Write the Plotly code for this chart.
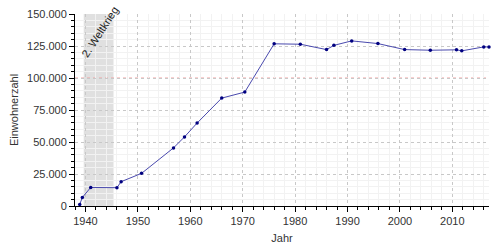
import plotly.graph_objects as go

years = [1938.9, 1939.4, 1941, 1946, 1946.8, 1950.7, 1956.8, 1958.9, 1961.3, 1966, 1970.4,
         1976, 1981, 1986, 1987.4, 1990.8, 1995.8, 2000.9, 2005.8, 2010.8, 2011.8, 2016, 2017]
population = [1200, 6700, 14500, 14300, 19000, 25500, 45400, 54000, 64800, 84300, 89000,
              126700, 126400, 122200, 125500, 129000, 126900, 122200, 121700, 122000, 121200, 124300, 124300]
war_start, war_end = 1939.67, 1945.35
war_label = "2. Weltkrieg"
reference_value = 100000

fig = go.Figure()
fig.add_trace(go.Scatter(
    x=years, y=population, mode="lines+markers",
    line=dict(color="#4a4aae", width=1),
    marker=dict(color="#000080", size=3.5),
    showlegend=False, cliponaxis=False,
))

fig.add_shape(type="rect", xref="x", yref="paper", x0=war_start, x1=war_end, y0=0, y1=1,
              fillcolor="#e0e0e0", line=dict(width=0), layer="below")
fig.add_shape(type="line", xref="paper", yref="y", x0=0, x1=1, y0=reference_value, y1=reference_value,
              line=dict(color="#f4a0a0", width=1, dash="dot"), layer="below")
fig.add_annotation(x=(war_start + war_end) / 2 + 0.2, y=136000, xref="x", yref="y", text=war_label,
                   textangle=-57, showarrow=False, xanchor="center", yanchor="middle",
                   font=dict(family="Liberation Sans, Arial, sans-serif", size=11, color="#222"))

axis_font = dict(family="Liberation Sans, Arial, sans-serif", size=11, color="#333")
fig.update_layout(
    width=500, height=250,
    margin=dict(l=75, r=11, t=14, b=44),
    paper_bgcolor="white", plot_bgcolor="white",
    separators=",.",
    font=axis_font,
    xaxis=dict(range=[1938, 2017], dtick=10, tick0=1940, showline=True, linecolor="black", linewidth=1,
               ticks="outside", ticklen=5, tickcolor="black", showgrid=True, gridcolor="#c8c8c8",
               griddash="dot", gridwidth=1, zeroline=False, automargin=False,
               minor=dict(dtick=2, tick0=1940, ticks="outside", ticklen=3, tickcolor="black",
                          showgrid=True, gridcolor="#f2f2f2", gridwidth=1, griddash="solid"),
               title=dict(text="Jahr", font=axis_font, standoff=8)),
    yaxis=dict(range=[0, 150000], dtick=25000, tickformat=",d", showline=True, linecolor="black",
               linewidth=1, ticks="outside", ticklen=5, tickcolor="black", showgrid=True,
               gridcolor="#c8c8c8", griddash="dot", zeroline=False, automargin=False,
               minor=dict(dtick=5000, ticks="outside", ticklen=3, tickcolor="black",
                          showgrid=True, gridcolor="#f2f2f2", gridwidth=1, griddash="solid"),
               title=dict(text="Einwohnerzahl", font=axis_font, standoff=6)),
)

fig.write_html("out.html")
